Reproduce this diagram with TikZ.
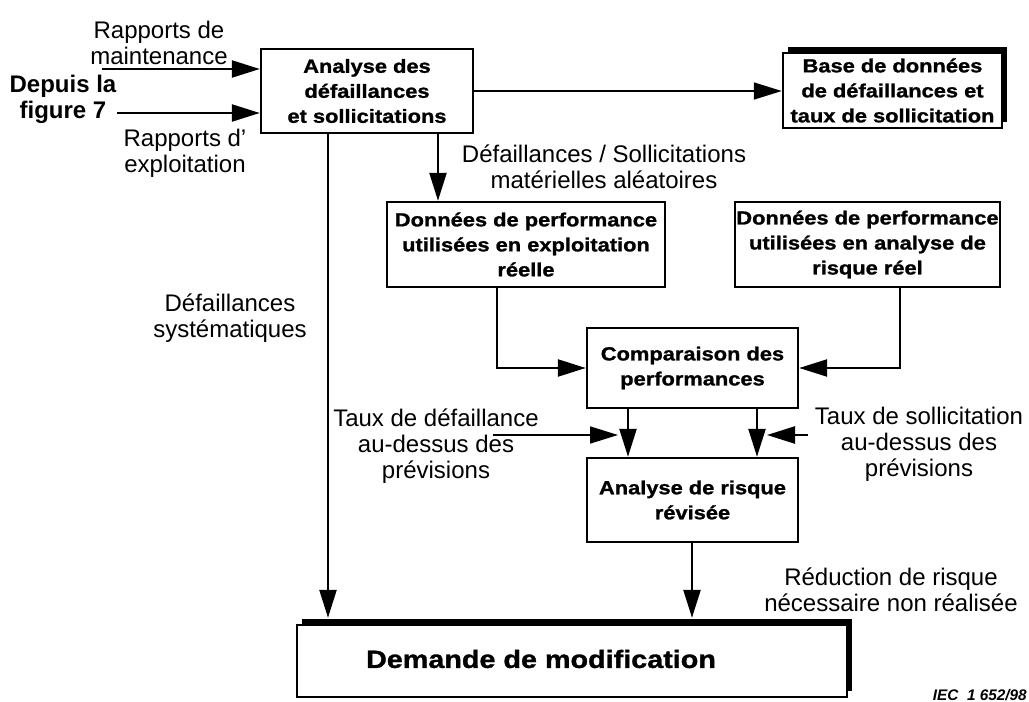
\documentclass[tikz,border=0pt]{standalone}
\usepackage{fontspec}
\setmainfont{Liberation Sans}
\newfontfamily\boxfont[FakeStretch=1.15, BoldFeatures={FakeBold=1.2}]{Liberation Sans}
\usetikzlibrary{arrows.meta,shadows}
\tikzset{
  boxnode/.style={draw, line width=1.8pt, fill=white, inner sep=0pt, align=center,
    font=\boxfont\bfseries\fontsize{14.25pt}{18.75pt}\selectfont},
  shadowed/.style={drop shadow={shadow xshift=3.75pt, shadow yshift=4.5pt, opacity=1, fill=black}},
  lbl/.style={align=center, inner sep=0pt, font=\fontsize{18pt}{19.5pt}\selectfont},
  arr/.style={line width=1.8pt, -{Triangle[length=21pt,width=12.75pt]}},
  thinarr/.style={line width=1.2pt, -{Triangle[length=21pt,width=12.75pt]}},
}
\begin{document}
\begin{tikzpicture}[x=0.75pt,y=-0.75pt]
\useasboundingbox (0,0) rectangle (1029,702);

% boxes
\node[boxnode, minimum width=159pt, minimum height=63pt] (A) at (367,91)
  {Analyse des\\défaillances\\et sollicitations};
\node[boxnode, shadowed, minimum width=164.25pt, minimum height=56.25pt] (B) at (892.5,90.5)
  {Base de données\\de défaillances et\\taux de sollicitation};
\node[boxnode, minimum width=208.5pt, minimum height=63.75pt] (C) at (526,244.5)
  {Données de performance\\utilisées en exploitation\\réelle};
\node[boxnode, minimum width=198.75pt, minimum height=63.75pt] (D) at (867.5,244.5)
  {Données de performance\\utilisées en analyse de\\risque réel};
\node[boxnode, minimum width=158.25pt, minimum height=60pt] (E) at (692.5,368)
  {Comparaison des\\performances};
\node[boxnode, minimum width=158.25pt, minimum height=63pt] (F) at (692.5,500)
  {Analyse de risque\\révisée};
\node[boxnode, shadowed, minimum width=412.5pt, minimum height=54pt] (G) at (572,661) {};
\node[inner sep=0pt, font=\boxfont\bfseries\fontsize{18.75pt}{22pt}\selectfont] (Gt) at (541,659)
  {Demande de modification};

% labels
\node[lbl] (lmaint) at (159,43) {Rapports de\\maintenance};
\node[lbl, font=\bfseries\fontsize{18pt}{19.5pt}\selectfont] (ldepuis) at (63,99) {Depuis la\\figure 7};
\node[lbl] (lexpl) at (185,153) {Rapports d'\\exploitation};
\node[lbl] (lmat) at (604,167) {Défaillances / Sollicitations\\matérielles aléatoires};
\node[lbl] (lsys) at (230,318) {Défaillances\\systématiques};
\node[lbl] (ltd) at (436,446) {Taux de défaillance\\au-dessus des\\prévisions};
\node[lbl] (lts) at (919,444) {Taux de sollicitation\\au-dessus des\\prévisions};
\node[lbl] (lred) at (891,590) {Réduction de risque\\nécessaire non réalisée};
\node[anchor=base east, inner sep=0pt, font=\bfseries\itshape\fontsize{11.5pt}{13pt}\selectfont] (iec) at (1027,700) {IEC\ \ 1 652/98};

% coordinates for free ends and columns
\coordinate (m0) at (102,69);
\coordinate (f0) at (117,113);
\coordinate (ac) at (438,0);
\coordinate (ag) at (328,0);
\coordinate (ce) at (497,0);
\coordinate (de) at (900,0);
\coordinate (ef1) at (628,0);
\coordinate (ef2) at (757,0);
\coordinate (fg) at (692,0);
\coordinate (sl0) at (493,435);
\coordinate (sl1) at (618,435);
\coordinate (sr0) at (808,435);
\coordinate (sr1) at (767,435);

% connectors
\draw[arr] (m0) -- (m0 -| A.west);
\draw[arr] (f0) -- (f0 -| A.west);
\draw[thinarr] (A.east) -- (A.east -| B.west);
\draw[arr] (A.south -| ac) -- (C.north -| ac);
\draw[arr, shorten >=4.5pt] (A.south -| ag) -- (G.north -| ag);
\draw[arr] (C.south -| ce) |- (E.west);
\draw[arr] (D.south -| de) |- (E.east);
\draw[arr] (E.south -| ef1) -- (F.north -| ef1);
\draw[arr] (E.south -| ef2) -- (F.north -| ef2);
\draw[thinarr] (sl0) -- (sl1);
\draw[arr] (sr0) -- (sr1);
\draw[arr, shorten >=4.5pt] (F.south -| fg) -- (G.north -| fg);
\end{tikzpicture}
\end{document}
